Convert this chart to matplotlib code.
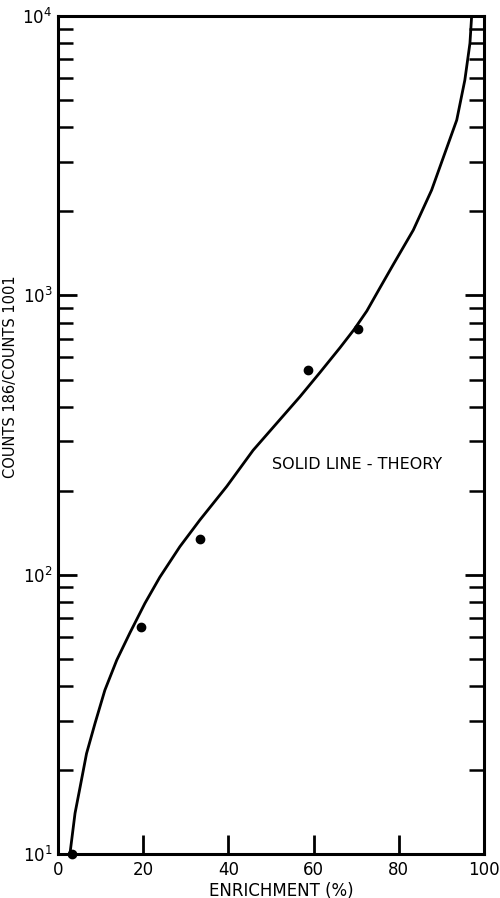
import matplotlib
matplotlib.use("Agg")
import matplotlib.pyplot as plt
from matplotlib.ticker import LogLocator, NullFormatter, FixedLocator

plt.rcParams['font.family'] = ['DejaVu Sans']
plt.rcParams['mathtext.fontset'] = 'dejavusans'

# Measured data points
data_x = [3.3, 19.4, 33.3, 58.8, 70.5]
data_y = [10, 65, 134, 542, 757]

# Theory curve
theory_x = [2.8, 4.0, 5.2, 6.7, 8.7, 11.0, 13.8, 16.9, 20.4, 23.9, 28.6, 33.3,
            39.6, 45.8, 51.3, 56.8, 61.5, 66.2, 69.5, 72.5, 75.5, 78.7, 83.4,
            87.7, 90.8, 93.6, 95.5, 96.7, 97.1]
theory_y = [10, 14.0, 17.4, 22.9, 29.4, 38.6, 49.5, 62, 79, 98, 126, 157,
            207, 279, 348, 434, 530, 650, 755, 880, 1060, 1290, 1714,
            2383, 3228, 4246, 5902, 8000, 10000]

x_ticks = [0, 20, 40, 60, 80, 100]
x_tick_labels = ["0", "20", "40", "60", "80", "100"]
y_ticks = [10, 100, 1000, 10000]
y_tick_labels = [r"$10^{1}$", r"$10^{2}$", r"$10^{3}$", r"$10^{4}$"]

fig = plt.figure(figsize=(5.0, 8.98), dpi=100)
ax = fig.add_axes([0.116, 0.049, 0.852, 0.933])

ax.plot(theory_x, theory_y, color='black', lw=2.0, solid_joinstyle='round',
        solid_capstyle='round')
ax.plot(data_x, data_y, 'o', color='black', ms=6, clip_on=False, zorder=5)

ax.set_yscale('log')
ax.set_xlim(0, 100)
ax.set_ylim(10, 10000)

ax.xaxis.set_major_locator(FixedLocator(x_ticks))
ax.set_xticklabels(x_tick_labels)
ax.yaxis.set_major_locator(FixedLocator(y_ticks))
ax.set_yticklabels(y_tick_labels)
ax.yaxis.set_minor_locator(LogLocator(base=10, subs=range(2, 10)))
ax.yaxis.set_minor_formatter(NullFormatter())

ax.tick_params(axis='both', which='major', direction='in', length=14, width=2,
               labelsize=12, top=False, right=True, pad=4)
ax.tick_params(axis='y', which='minor', direction='in', length=11, width=1.8,
               right=True)
ax.tick_params(axis='x', which='major', pad=5)

for s in ax.spines.values():
    s.set_linewidth(2.2)

ax.set_xlabel("ENRICHMENT (%)", fontsize=12)
ax.xaxis.set_label_coords(0.525, -0.033)
ax.set_ylabel("COUNTS 186/COUNTS 1001", fontsize=10.5)
ax.yaxis.set_label_coords(-0.094, 0.57)

ax.text(50.2, 249, "SOLID LINE - THEORY", fontsize=11.5, ha='left', va='center')

fig.savefig("out.png", dpi=100)
